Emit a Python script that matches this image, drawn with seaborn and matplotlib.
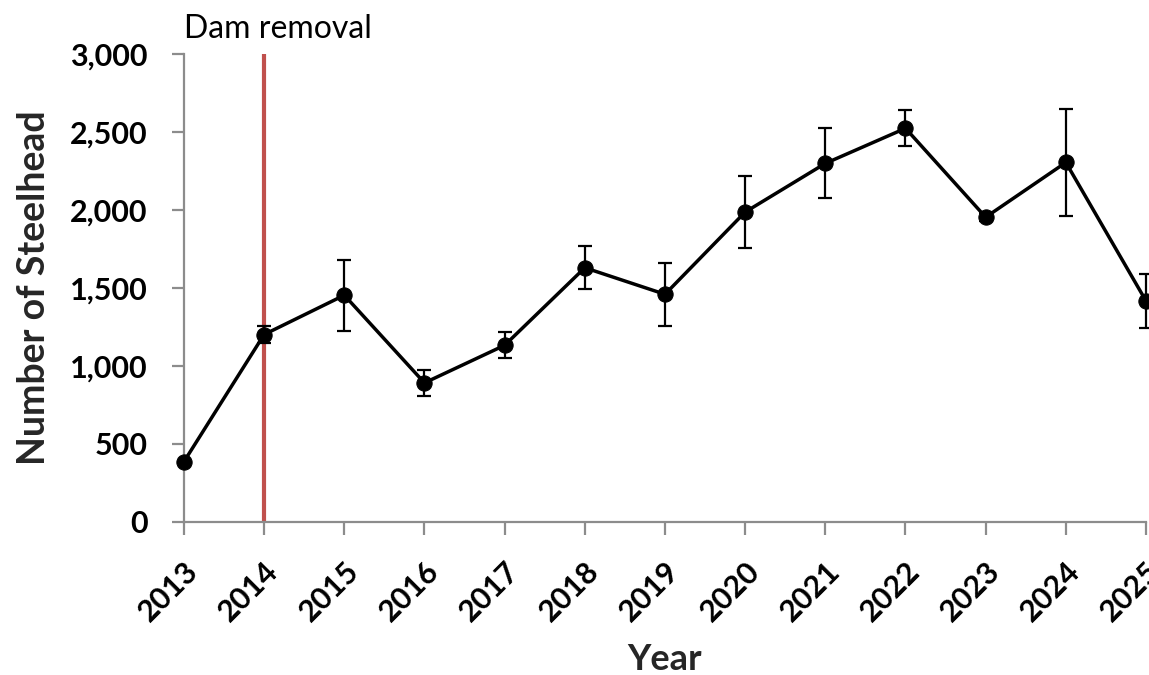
import matplotlib
matplotlib.use("Agg")
import matplotlib.pyplot as plt
import matplotlib.transforms as mtransforms
import seaborn as sns
import pandas as pd

# data
years = [2013, 2014, 2015, 2016, 2017, 2018, 2019, 2020, 2021, 2022, 2023, 2024, 2025]
steelhead = [385, 1200, 1452, 890, 1131, 1628, 1458, 1985, 2297, 2522, 1952, 2303, 1415]
err = [0, 55, 228, 82, 83, 138, 203, 233, 224, 115, 25, 344, 173]
yticks = [0, 500, 1000, 1500, 2000, 2500, 3000]
event_year = 2014
event_label = "Dam removal"

df = pd.DataFrame({"year": years, "count": steelhead, "err": err})

sns.set_theme(style="white")
plt.rcParams["font.family"] = ["Lato", "DejaVu Sans"]

fig = plt.figure(figsize=(11.49, 6.75), dpi=100)
ax = fig.add_axes([0.1601, 0.2271, 0.8373, 0.6933])

ax.errorbar(df["year"], df["count"], yerr=df["err"], fmt="none",
            ecolor="black", elinewidth=1.6, capsize=5, capthick=1.6,
            zorder=3, clip_on=False)
sns.lineplot(data=df, x="year", y="count", ax=ax, color="black",
             linewidth=2.5, marker="o", markersize=11,
             markeredgecolor="black", zorder=4, clip_on=False)

# dam removal marker
ax.axvline(event_year, color="#C0504D", linewidth=3, zorder=2)
ax.annotate(event_label, xy=(event_year, 3060), xytext=(10, 0),
            textcoords="offset points", ha="center", va="bottom",
            fontsize=23, color="black", annotation_clip=False)

ax.set_xlim(years[0], years[-1])
ax.set_ylim(0, 3000)
ax.set_xticks(years)
ax.set_yticks(yticks)
ax.set_yticklabels([f"{v:,}" for v in yticks], fontsize=22, fontweight="bold")
ax.set_xticklabels([str(y) for y in years], rotation=45, ha="right",
                   rotation_mode="anchor", fontsize=22, fontweight="bold")

shift = mtransforms.ScaledTranslation(5 / 72, 0, fig.dpi_scale_trans)
for lab in ax.get_xticklabels():
    lab.set_transform(lab.get_transform() + shift)

ax.set_xlabel("Year", fontsize=26, fontweight="bold", labelpad=12)
ax.set_ylabel("Number of Steelhead", fontsize=27, fontweight="bold", labelpad=14)

sns.despine(ax=ax, top=True, right=True)
for s in ["left", "bottom"]:
    ax.spines[s].set_color("#8C8C8C")
    ax.spines[s].set_linewidth(1.6)
ax.tick_params(axis="both", which="both", direction="out", length=9,
               width=1.6, color="#8C8C8C", labelcolor="black")
ax.tick_params(axis="y", left=True, pad=17)
ax.tick_params(axis="x", bottom=True, pad=16)

fig.savefig("out.png", dpi=100)
